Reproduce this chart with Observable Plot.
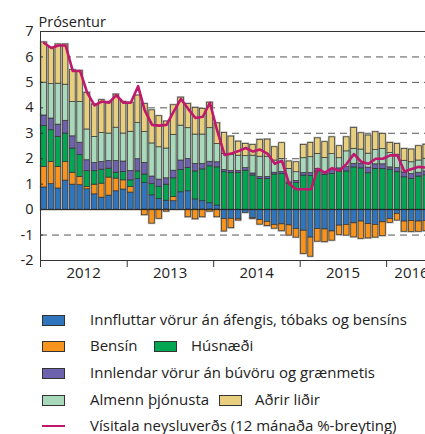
<!DOCTYPE html>
<html><head><meta charset="utf-8">
<script src="https://cdn.jsdelivr.net/npm/d3@7"></script>
<script src="https://cdn.jsdelivr.net/npm/@observablehq/plot@0.6"></script>
<style>
html,body{margin:0;padding:0;background:#fff;overflow:hidden;}
#wrap{position:relative;width:425px;height:434px;overflow:hidden;font-family:"Open Sans",sans-serif;color:#222;}
.sw{position:absolute;width:21px;height:9px;border:1px solid #333;}
.ln{position:absolute;width:23px;height:2px;}
.lt{position:absolute;font-size:15px;line-height:15px;white-space:nowrap;}
</style></head><body><div id="wrap"></div>
<script>
const seriesNames = [
  "Innfluttar vörur án áfengis, tóbaks og bensíns",
  "Bensín",
  "Húsnæði",
  "Innlendar vörur án búvöru og grænmetis",
  "Almenn þjónusta",
  "Aðrir liðir"
];
const seriesColors = ["#2f75bd", "#f7941d", "#00a651", "#6c62ad", "#a8d9bb", "#e8cf7f"];
const lineName = "Vísitala neysluverðs (12 mánaða %-breyting)";
const lineColor = "#c0186c";

const imported = [
  .87, 1.00, .83, 1.14, .98, .96, .80, .60, .47, .55, .72, .79,
  .67, 1.20, 1.04, .56, .42, .35, .33, .68, .72, .40, .33, .25,
  .16, -.37, -.36, -.38, -.13, -.34, -.41, -.48, -.60, -.58, -.62, -.76,
  -.83, -1.10, -.76, -.78, -.86, -.63, -.60, -.54, -.47, -.57, -.60, -.50,
  -.37, -.17, -.47, -.45, -.47, -.45
];
const petrol = [
  .81, .87, .85, .73, .47, .32, .09, .38, .55, .71, .50, .36,
  .22, 0, -.22, -.55, -.36, -.08, .16, 0, -.30, -.38, -.30, -.08,
  -.30, -.49, -.37, -.05, 0, -.03, -.18, -.17, -.15, -.27, -.40, -.34,
  -.91, -.75, -.50, -.50, -.36, -.37, -.42, -.55, -.68, -.56, -.50, -.54,
  -.15, -.26, -.40, -.43, -.40, -.40
];
const housing = [
  1.60, 1.25, 1.18, 1.12, .95, .86, .62, .53, .55, .35, .23, .33,
  .26, .30, .34, .44, .48, .63, .74, .88, .92, 1.10, 1.25, 1.45,
  1.50, 1.47, 1.44, 1.44, 1.53, 1.34, 1.20, 1.20, 1.38, 1.40, 1.00, 1.04,
  1.34, 1.32, 1.50, 1.36, 1.40, 1.50, 1.50, 1.66, 1.62, 1.43, 1.60, 1.60,
  1.57, 1.47, 1.27, 1.20, 1.30, 1.35
];
const domestic = [
  .42, .46, .48, .50, .48, .49, .43, .32, .30, .30, .46, .41,
  .37, .48, .46, .30, .28, .25, .30, .37, .35, .30, .22, .18,
  .20, .09, .08, .08, .10, .08, .08, .08, .07, .08, .07, .08,
  .10, .12, .10, .12, .17, .12, .17, .14, .17, .22, .18, .18,
  .09, .16, .19, .20, .15, .15
];
const services = [
  1.29, 1.35, 1.61, 1.42, 1.35, 1.60, 1.21, 1.03, 1.14, 1.08, 1.31, 1.10,
  1.54, 1.42, 1.21, 1.30, 1.27, 1.17, 1.41, 1.37, 1.21, 1.15, 1.15, 1.32,
  .72, .63, .63, .60, .47, .70, .80, .80, .48, .51, .53, .35,
  .58, .62, .59, .55, .61, .40, .62, .59, .57, .55, .56, .60,
  .56, .53, .46, .46, .48, .50
];
const other = [
  1.58, 1.43, 1.54, 1.58, 1.25, 1.22, 1.44, 1.27, 1.29, 1.24, 1.30, 1.24,
  1.14, 1.08, 1.10, 1.30, 1.22, 1.06, 1.16, 1.10, .95, 1.05, 1.00, 1.00,
  .81, .82, .72, .55, .48, .42, .66, .67, .52, .62, .29, .39,
  .52, .56, .61, .62, .66, .47, .55, .82, .64, .71, .70, .59,
  .40, .42, .46, .50, .56, .55
];
const cpi = [
  6.55, 6.35, 6.45, 6.45, 5.45, 5.45, 4.6, 4.1, 4.25, 4.2, 4.5, 4.2,
  4.2, 4.85, 3.9, 3.33, 3.3, 3.33, 3.85, 4.35, 3.95, 3.6, 3.65, 4.2,
  3.1, 2.15, 2.2, 2.3, 2.42, 2.28, 2.36, 2.2, 1.8, 1.92, 1.0, 0.8,
  0.8, 0.8, 1.6, 1.45, 1.63, 1.53, 1.8, 2.18, 1.88, 1.8, 2.0, 2.0,
  2.13, 2.13, 1.5, 1.6, 1.68, 1.65
];
const yTicks = [-2, -1, 0, 1, 2, 3, 4, 5, 6, 7];
const gridValues = [-1, 1, 2, 3, 4, 5, 6];
const yearStarts = ["2012-01-01", "2013-01-01", "2014-01-01", "2015-01-01", "2016-01-01"].map(d => new Date(d));
const yearLabelDates = ["2012-07-01", "2013-07-01", "2014-07-01", "2015-07-01", "2016-04-15"].map(d => new Date(d));
const domainStart = new Date("2012-01-01");
const domainEnd = new Date("2016-07-01");

const months = d3.utcMonth.range(domainStart, domainEnd);
const seriesValues = [imported, petrol, housing, domestic, services, other];
const data = [];
seriesNames.forEach((s, k) => months.forEach((m, i) => {
  const v = seriesValues[k][i];
  if (v !== 0) data.push({date: m, series: s, value: v});
}));
const cpiData = months.map((m, i) => ({date: d3.utcDay.offset(m, 15), value: cpi[i]}));

const barOpts = {x: "date", interval: "month", y: "value", fill: "series", order: seriesNames, insetLeft: 0.85, insetRight: 0.85};

const chart = Plot.plot({
  width: 425, height: 290,
  marginLeft: 40, marginTop: 31, marginBottom: 30, marginRight: 0,
  style: {fontFamily: "Open Sans, sans-serif", overflow: "hidden", background: "white", color: "#222"},
  x: {type: "utc", domain: [domainStart, domainEnd], range: [40, 429.25], axis: null},
  y: {domain: [-2, 7], range: [260, 31], axis: null},
  color: {domain: seriesNames, range: seriesColors},
  marks: [
    Plot.ruleY(gridValues, {stroke: "#555", strokeDasharray: "7,5", strokeWidth: 1}),
    Plot.rectY(data, {...barOpts, stroke: "#b4b4b4", strokeWidth: 2.2}),
    Plot.rectY(data, {...barOpts, stroke: "#333", strokeWidth: 0.7}),
    Plot.ruleY([0], {stroke: "#222", strokeWidth: 1}),
    Plot.line(cpiData, {x: "date", y: "value", stroke: lineColor, strokeWidth: 2.6}),
    Plot.ruleY([7, -2], {stroke: "#333", strokeWidth: 1}),
    Plot.ruleX([domainStart], {stroke: "#333", strokeWidth: 1}),
    Plot.axisY(yTicks, {anchor: "left", tickSize: 3, dx: 3, tickPadding: 7, fontSize: 14.5, tickFormat: d => String(d), label: null, stroke: "#333"}),
    Plot.axisX(yearStarts, {anchor: "bottom", tickSize: 7, tickFormat: () => "", label: null, stroke: "#333"}),
    Plot.axisX(yearLabelDates, {anchor: "bottom", tickSize: 0, tickPadding: 7, tickFormat: d3.utcFormat("%Y"), fontSize: 15, label: null}),
    Plot.text(["Prósentur"], {frameAnchor: "top-left", text: d => d, textAnchor: "start", lineAnchor: "bottom", dx: -2, dy: -5, fontSize: 14.5, fill: "#222"})
  ]
});
const wrap = document.getElementById("wrap");
wrap.appendChild(chart);

// Legend
const legendRows = [
  {top: 315, items: [{type: "sw", color: seriesColors[0], x: 42, label: seriesNames[0], tx: 90}]},
  {top: 341, items: [{type: "sw", color: seriesColors[1], x: 42, label: seriesNames[1], tx: 90},
                     {type: "sw", color: seriesColors[2], x: 154, label: seriesNames[2], tx: 191}]},
  {top: 368, items: [{type: "sw", color: seriesColors[3], x: 42, label: seriesNames[3], tx: 90}]},
  {top: 395, items: [{type: "sw", color: seriesColors[4], x: 42, label: seriesNames[4], tx: 90},
                     {type: "sw", color: seriesColors[5], x: 219, label: seriesNames[5], tx: 255}]},
  {top: 421, items: [{type: "ln", color: lineColor, x: 42, label: lineName, tx: 90}]}
];
legendRows.forEach(row => row.items.forEach(it => {
  const s = document.createElement("div");
  s.className = it.type;
  s.style.left = it.x + "px";
  s.style.background = it.color;
  s.style.top = (it.type === "ln" ? row.top + 4 : row.top) + "px";
  wrap.appendChild(s);
  const t = document.createElement("div");
  t.className = "lt";
  t.style.left = it.tx + "px";
  t.style.top = (row.top - 3) + "px";
  t.textContent = it.label;
  wrap.appendChild(t);
}));
</script></body></html>
